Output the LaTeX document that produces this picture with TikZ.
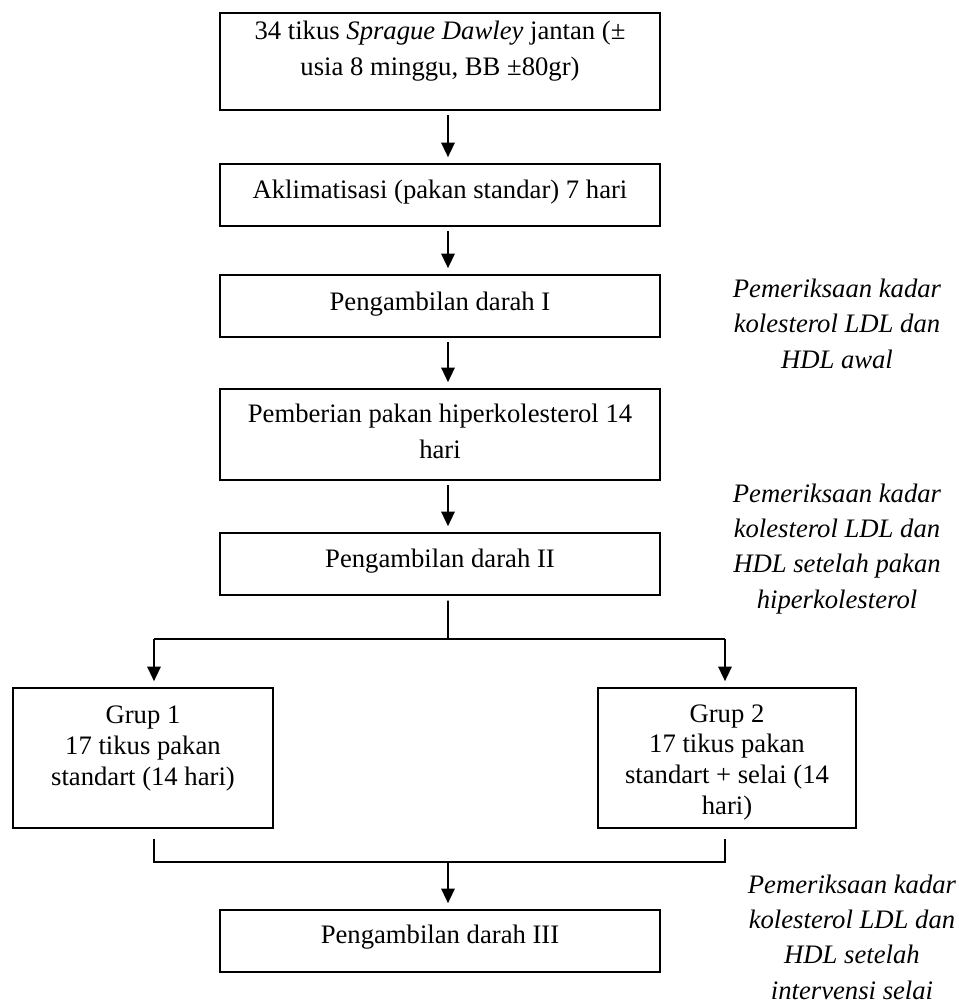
\documentclass[tikz,border=0pt]{standalone}
\usepackage{fontspec}
\setmainfont{Liberation Serif}
\usetikzlibrary{arrows.meta}

\begin{document}
\begin{tikzpicture}[x=0.45pt,y=-0.45pt,
  font=\fontsize{12pt}{15.8pt}\selectfont,
  box/.style={draw,line width=0.75pt,align=center,inner sep=0pt,anchor=base,minimum width=198pt},
  grp/.style={box,font=\fontsize{12pt}{13.8pt}\selectfont},
  note/.style={align=center,inner sep=0pt,anchor=base,font=\fontsize{12pt}{15.9pt}\selectfont\itshape},
  arr/.style={-{Triangle[length=6.5pt,width=6pt]},line width=0.75pt,shorten <=2pt,shorten >=2.7pt},
  link/.style={line width=0.75pt}]
  \useasboundingbox (0,0) rectangle (958,1005);
  % main column (anchored at the last text line)
  \node[box,text height=27.9pt,text depth=15.75pt] (b1) at (440,75)
    {34 tikus \textit{Sprague Dawley} jantan (±\\usia 8 minggu, BB ±80gr)};
  \node[box,text height=15.3pt,text depth=12.6pt] (b2) at (440,198)
    {Aklimatisasi (pakan standar) 7 hari};
  \node[box,text height=15.75pt,text depth=12.15pt] (b3) at (440,310)
    {Pengambilan darah I};
  \node[box,text height=31.05pt,text depth=9.9pt] (b4) at (440,458)
    {Pemberian pakan hiperkolesterol 14\\hari};
  \node[box,text height=15.3pt,text depth=12.6pt] (b5) at (440,567)
    {Pengambilan darah II};
  \node[box,text height=14.85pt,text depth=13.05pt] (b8) at (440,943)
    {Pengambilan darah III};
  % the two groups
  \node[grp,minimum width=117pt,text height=43.65pt,text depth=19.35pt] (g1) at (143,785)
    {Grup 1\\17 tikus pakan\\standart (14 hari)};
  \node[grp,minimum width=116.1pt,text height=56.7pt,text depth=6.3pt] (g2) at (727,814)
    {Grup 2\\17 tikus pakan\\standart + selai (14\\hari)};
  % notes on the right
  \node[note] (n1) at (837,368) {Pemeriksaan kadar\\kolesterol LDL dan\\HDL awal};
  \node[note] (n2) at (837,608)
    {Pemeriksaan kadar\\kolesterol LDL dan\\HDL setelah pakan\\hiperkolesterol};
  \node[note] (n3) at (852,999)
    {Pemeriksaan kadar\\kolesterol LDL dan\\HDL setelah\\intervensi selai};
  % arrows down the column
  \foreach \a/\b in {b1/b2,b2/b3,b3/b4,b4/b5}
    \draw[arr] ([xshift=3.6pt]\a.south) -- ([xshift=3.6pt]\b.north);
  % split into the groups
  \coordinate (split) at (448,639);
  \coordinate (sl) at (154,639);
  \coordinate (sr) at (725,639);
  \draw[link,shorten <=2.2pt] ([xshift=3.6pt]b5.south) -- (split);
  \draw[link] (sl) -- (sr);
  \draw[arr,shorten <=0pt] (sl) -- (g1.north -| sl);
  \draw[arr,shorten <=0pt] (sr) -- (g2.north -| sr);
  % join again
  \coordinate (jl) at (154,862);
  \coordinate (jr) at (725,862);
  \coordinate (join) at (448,862);
  \draw[link,shorten <=4.5pt,shorten >=4.5pt] (g1.south -| jl) -- (jl) -- (jr) -- (g2.south -| jr);
  \draw[arr,shorten <=0pt] (join) -- (b8.north -| join);
\end{tikzpicture}
\end{document}
